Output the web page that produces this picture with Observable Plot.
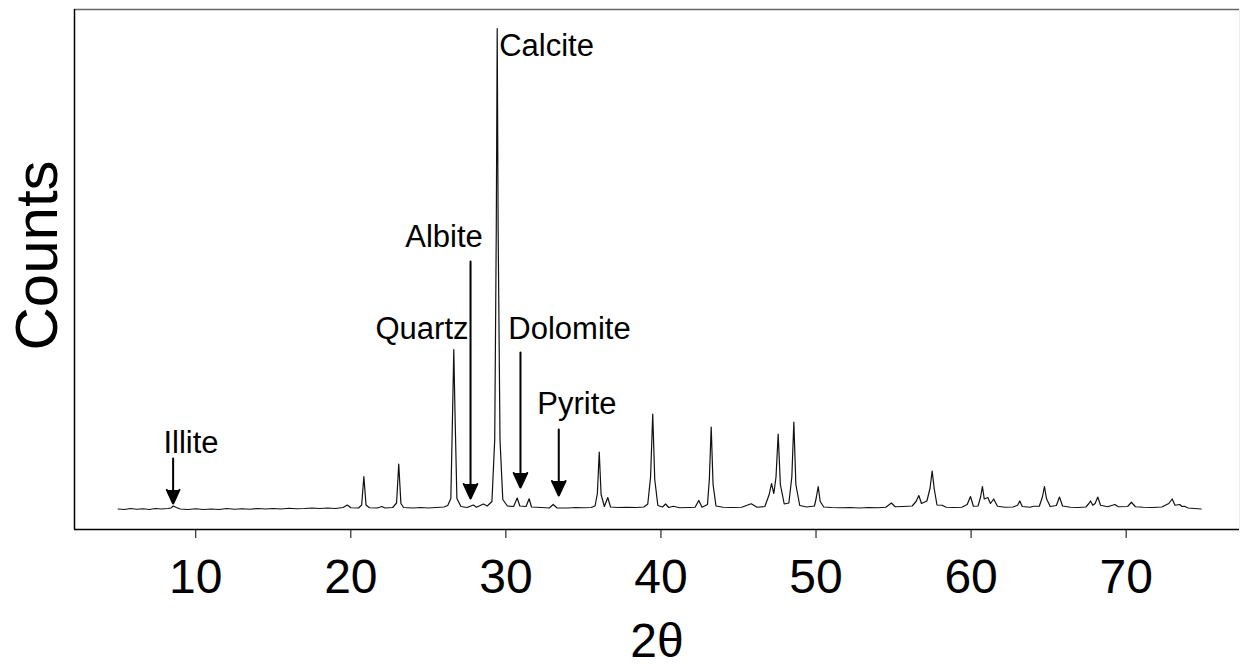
<!DOCTYPE html>
<html><head><meta charset="utf-8">
<script src="https://cdn.jsdelivr.net/npm/d3@7"></script>
<script src="https://cdn.jsdelivr.net/npm/@observablehq/plot@0.6"></script>
<style>body{margin:0;background:#fff}</style>
</head><body><div id="chart"></div>
<script>
// XRD pattern: [2θ, counts]
const patternPoints = [
 [5.0,410],[5.4,400],[5.8,420],[6.2,405],[6.6,415],[7.0,400],[7.4,420],[7.8,410],[8.2,420],[8.4,430],[8.55,470],[8.75,440],[9.0,410],
 [9.5,400],[10.0,415],[10.5,400],[11.0,410],[11.5,400],[12.0,420],[12.5,405],[13.0,415],[13.5,405],[14.0,420],[14.5,410],[15.0,420],
 [15.5,410],[16.0,425],[16.5,415],[17.0,420],[17.5,430],[18.0,420],[18.5,430],[19.0,420],[19.5,440],[19.77,490],[20.0,435],[20.5,430],
 [20.7,490],[20.84,1060],[20.98,490],[21.2,435],[21.7,430],[22.0,460],[22.2,430],[22.7,440],[22.95,530],[23.09,1310],[23.23,520],[23.4,440],
 [24.0,430],[24.5,440],[25.0,430],[25.5,440],[26.0,450],[26.25,480],[26.45,620],[26.56,2300],[26.64,3600],[26.72,2300],[26.84,620],
 [27.1,460],[27.5,440],[27.9,490],[28.1,445],[28.55,510],[28.8,470],[29.1,560],[29.28,1800],[29.38,6000],[29.44,10020],[29.5,6000],
 [29.62,1800],[29.8,600],[30.1,470],[30.5,460],[30.73,630],[30.9,470],[31.3,460],[31.5,615],[31.65,450],[32.3,440],[32.8,430],[33.05,500],
 [33.3,430],[34.0,430],[34.5,440],[35.0,435],[35.5,440],[35.75,470],[35.9,720],[36.02,1550],[36.14,700],[36.35,460],[36.57,640],[36.75,450],
 [37.2,440],[37.8,445],[38.4,440],[38.9,450],[39.15,510],[39.33,1050],[39.47,2310],[39.6,1000],[39.8,480],[40.1,450],[40.3,510],[40.5,440],
 [40.8,465],[41.2,435],[41.8,440],[42.2,445],[42.44,580],[42.65,445],[43.0,500],[43.12,1000],[43.24,2050],[43.36,900],[43.55,470],
 [44.0,445],[44.6,440],[45.2,445],[45.82,515],[46.2,445],[46.7,460],[46.98,700],[47.13,920],[47.28,720],[47.42,1050],[47.56,1910],
 [47.7,900],[47.95,510],[48.25,530],[48.44,1050],[48.57,2150],[48.7,900],[48.95,480],[49.4,450],[49.9,470],[50.02,640],[50.14,860],
 [50.27,560],[50.5,450],[51.0,440],[51.6,435],[52.2,440],[52.8,430],[53.4,440],[54.0,435],[54.5,445],[54.86,530],[55.1,455],[55.6,460],
 [56.2,470],[56.45,560],[56.63,680],[56.8,520],[57.15,570],[57.35,820],[57.49,1170],[57.62,820],[57.8,490],[58.13,485],[58.4,445],
 [58.9,440],[59.4,445],[59.75,500],[59.96,660],[60.15,465],[60.45,470],[60.62,660],[60.73,860],[60.85,610],[61.08,640],[61.25,520],
 [61.46,610],[61.7,465],[62.2,445],[62.7,450],[63.0,485],[63.14,570],[63.3,460],[63.8,445],[64.04,465],[64.4,465],[64.6,650],[64.73,860],
 [64.86,620],[65.1,460],[65.5,480],[65.7,650],[65.9,470],[66.4,445],[66.9,440],[67.4,450],[67.6,520],[67.7,570],[67.85,485],[68.0,520],
 [68.17,650],[68.35,485],[68.8,455],[69.27,500],[69.5,455],[70.1,460],[70.34,545],[70.6,455],[71.1,445],[71.7,440],[72.3,450],[72.75,520],
 [72.97,610],[73.15,485],[73.46,500],[73.6,460],[73.76,465],[74.0,430],[74.4,420],[74.84,410]
];
const xTicks = [10, 20, 30, 40, 50, 60, 70];
const xDomain = [2.18, 77.31];
const yDomain = [0, 10400];

// phase labels
const phaseNames = ["Albite", "Quartz", "Dolomite", "Pyrite", "Illite"];
const phaseLabelX = [26.01, 24.59, 34.10, 34.58, 9.69];
const phaseLabelY = [5660, 3820, 3820, 2320, 1540];
const topPhase = ["Calcite"];
const topPhaseX = [29.57];
const topPhaseY = [9480];

// arrows pointing to minor peaks
const arrowX = [27.72, 30.94, 33.41, 8.54];
const arrowStart = [5360, 3540, 2000, 1420];
const arrowTip = [620, 840, 680, 520];

const trace = patternPoints.map(([x, y]) => ({x, y}));
const labels = phaseNames.map((t, i) => ({t, x: phaseLabelX[i], y: phaseLabelY[i]}));
const topLabels = topPhase.map((t, i) => ({t, x: topPhaseX[i], y: topPhaseY[i]}));
const arrows = arrowX.map((x, i) => ({x, y1: arrowStart[i], y2: arrowTip[i]}));

const chart = Plot.plot({
  width: 1243, height: 671,
  marginLeft: 74, marginRight: 4, marginTop: 9, marginBottom: 142,
  style: {fontFamily: "'Liberation Sans', Arial, sans-serif", fontSize: "48px", color: "#000", background: "#fff"},
  x: {domain: xDomain, ticks: xTicks, tickSize: 9, tickPadding: 20, label: null, tickFormat: d => String(d)},
  y: {domain: yDomain, axis: null},
  marks: [
    Plot.ruleY([yDomain[1]], {stroke: "#666", strokeWidth: 1.5}),
    Plot.ruleX([xDomain[1]], {stroke: "#eee", strokeWidth: 1}),
    Plot.ruleX([xDomain[0]], {stroke: "#000", strokeWidth: 1.5}),
    Plot.ruleY([yDomain[0]], {stroke: "#000", strokeWidth: 1.5}),
    Plot.line(trace, {x: "x", y: "y", stroke: "#111", strokeWidth: 1.2}),
    Plot.arrow(arrows, {x1: "x", x2: "x", y1: "y1", y2: "y2", stroke: "#000", fill: "#000", strokeWidth: 2, headLength: 12, headAngle: 50}),
    Plot.text(labels, {x: "x", y: "y", text: "t", fontSize: 31, lineAnchor: "bottom", textAnchor: "middle", fill: "#000"}),
    Plot.text(topLabels, {x: "x", y: "y", text: "t", fontSize: 31, lineAnchor: "bottom", textAnchor: "start", fill: "#000"}),
    Plot.text(["Counts"], {text: d => d, frameAnchor: "left", textAnchor: "middle", rotate: -90, dx: -37, dy: -14, fontSize: 60, fill: "#000"}),
    Plot.text(["2θ"], {text: d => d, frameAnchor: "bottom", dy: 127, fontSize: 48, lineAnchor: "bottom", fill: "#000"})
  ]
});
document.getElementById("chart").appendChild(chart);
</script>
</body></html>
